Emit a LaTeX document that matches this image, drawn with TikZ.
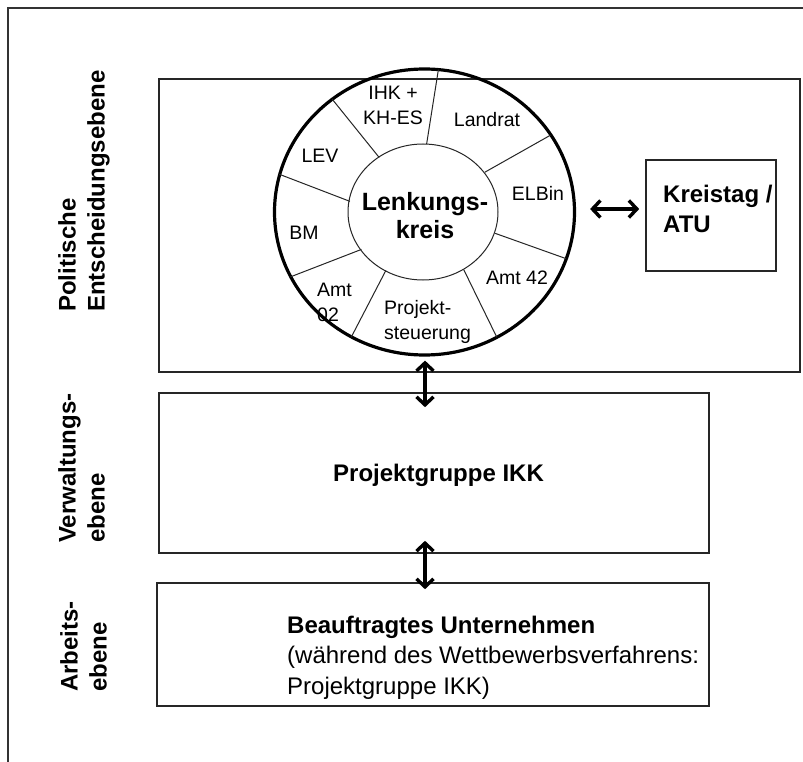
\documentclass[tikz,border=0pt]{standalone}
\usepackage{fontspec}
\setmainfont{Liberation Sans}
\usetikzlibrary{arrows.meta,shapes.geometric,calc}
\begin{document}
\begin{tikzpicture}[x=1pt,y=-1pt,
  box/.style={draw=black!85, line width=1.6pt, inner sep=0pt},
  seg/.style={font=\fontsize{19.5}{25}\selectfont, inner sep=0pt, align=center},
  lvl/.style={font=\bfseries\fontsize{24}{29}\selectfont, rotate=90, anchor=north west, align=left, inner sep=0pt},
  dbl/.style={{Straight Barb[length=8pt,width=17pt,line width=3.4pt]}-{Straight Barb[length=8pt,width=17pt,line width=3.4pt]}, line width=3.4pt},
  divider/.style={line width=1pt, black!85}
  ]
\useasboundingbox (0,0) rectangle (803,762);
\fill[white] (0,0) rectangle (803,762);
\draw[black!80, line width=1.5pt] (8,775) -- (8,8) -- (815,8);

% boxes
\node[box, minimum width=641pt, minimum height=293pt] (pol) at (479.5,225.5) {};
\node[box, minimum width=550pt, minimum height=160pt] (mid) at (434,473) {};
\node[box, minimum width=552pt, minimum height=123pt] (bot) at (433,644.5) {};
\node[box, minimum width=130pt, minimum height=111pt] (kt) at (711,215.5) {};

% ring
\node[draw, ellipse, line width=3.2pt, minimum width=300pt, minimum height=286pt, inner sep=0pt] (ring) at (424.5,212) {};
\node[draw=black!85, ellipse, line width=1pt, minimum width=150pt, minimum height=136pt, inner sep=0pt] (lk) at (423,212) {};

\begin{scope}[shift={(424,212)}]
  \draw[divider] (-88:75 and 68) -- (-84.5:150 and 143);
  \draw[divider] (-35.8:75 and 68) -- (-32.5:150 and 143);
  \draw[divider] (18.3:75 and 68) -- (19:150 and 143);
  \draw[divider] (58:75 and 68) -- (61:150 and 143);
  \draw[divider] (120.6:75 and 68) -- (119:150 and 143);
  \draw[divider] (146.6:75 and 68) -- (153:150 and 143);
  \draw[divider] (-171:75 and 68) -- (-164.7:150 and 143);
  \draw[divider] (-126.7:75 and 68) -- (-127.8:150 and 143);
\end{scope}

% ring labels
\node[seg] (ihk) at (393,105) {IHK +\\KH-ES};
\node[seg] (lr) at (487,120) {Landrat};
\node[seg] (lev) at (320,156) {LEV};
\node[seg] (elb) at (538,193) {ELBin};
\node[seg] (bm) at (304,233) {BM};
\node[seg] (a42) at (517,278) {Amt 42};
\node[seg, align=left, anchor=west] (a02) at (317,302.5) {Amt\\02};
\node[seg, align=left, anchor=west] (ps) at (384,322) {Projekt-\\steuerung};
\node[font=\bfseries\fontsize{25}{28}\selectfont, align=center, inner sep=0pt] (lkt) at (425,216) {Lenkungs-\\kreis};

% box texts
\node[font=\bfseries\fontsize{24}{30}\selectfont, align=left, inner sep=0pt, anchor=north west] (ktt) at (663,185) {Kreistag /\\ATU};
\node[font=\bfseries\fontsize{24}{29}\selectfont, inner sep=0pt] (pg) at (438.5,475) {Projektgruppe IKK};
\node[font=\fontsize{24}{30.5}\selectfont, align=left, inner sep=0pt, anchor=north west] (bu) at (287,615.5) {\textbf{Beauftragtes Unternehmen}\\(während des Wettbewerbsverfahrens:\\Projektgruppe IKK)};

% level labels
\node[lvl] (l1) at (58,312) {Politische\\Entscheidungsebene};
\node[lvl] (l2) at (58,543) {Verwaltungs-\\ebene};
\node[lvl] (l3) at (60,692) {Arbeits-\\ebene};

% arrows
\coordinate (h1) at ($(ring.east)+(14,-3)$);
\coordinate (h2) at ($(h1 -| kt.west)+(-6,0)$);
\draw[dbl] (h1) -- (h2);
\coordinate (v1) at ($(ring.south)+(0.5,4)$);
\coordinate (v2) at ($(v1 |- mid.north)+(0,15)$);
\draw[dbl] (v1) -- (v2);
\coordinate (v3) at ($(v1 |- mid.south)+(0,-13)$);
\coordinate (v4) at ($(v1 |- bot.north)+(0,7)$);
\draw[dbl] (v3) -- (v4);
\end{tikzpicture}
\end{document}
